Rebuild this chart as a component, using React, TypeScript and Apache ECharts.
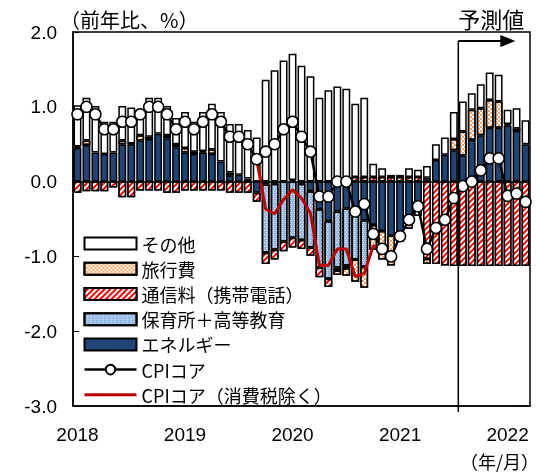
import React, { useEffect, useRef } from "react";
import * as echarts from "echarts";

// Monthly categories, 2018/1 .. 2022/3
const years = [2018, 2019, 2020, 2021, 2022];
const months: string[] = [];
years.forEach((y) => {
  const last = y === 2022 ? 3 : 12;
  for (let m = 1; m <= last; m++) months.push(`${y}/${m}`);
});

// Contributions to CPI core (y/y, % points)
const energy = [
  0.45, 0.49, 0.39, 0.37, 0.39, 0.5, 0.5, 0.55, 0.57, 0.64, 0.58, 0.46,
  0.39, 0.37, 0.39, 0.37, 0.27, 0.08, 0.09, 0.04, -0.15, -0.04, -0.03, 0,
  0.02, -0.03, -0.13, -0.37, -0.53, -0.4, -0.36, -0.42, -0.52, -0.58, -0.66, -0.72,
  -0.7, -0.55, -0.38, 0.05, 0.29, 0.36, 0.42, 0.35, 0.56, 0.62, 0.72, 0.72,
  0.75, 0.68, 0.5,
];
const childcare = [
  0, 0, 0, 0, 0, 0, 0, 0, 0, 0, 0, 0,
  0, 0, 0, 0, 0, 0, 0, 0, 0, -0.91, -0.88, -0.8,
  -0.75, -0.75, -0.75, -0.78, -0.77, -0.75, -0.76, -0.62, -0.62, 0, 0, 0,
  0, 0, 0, 0, 0, 0, 0, 0, 0, 0, 0, 0,
  0, 0, 0,
];
const mobile = [
  -0.15, -0.13, -0.13, -0.13, -0.08, -0.21, -0.21, -0.12, -0.12, -0.12, -0.15, -0.15,
  -0.12, -0.12, -0.12, -0.12, -0.12, -0.15, -0.15, -0.15, -0.12, -0.15, -0.13, -0.13,
  -0.13, -0.12, -0.11, -0.13, -0.11, -0.04, -0.04, 0.06, 0.06, 0.06, 0.06, 0.06,
  0.06, 0.06, 0.06, -1.03, -1.1, -1.12, -1.13, -1.13, -1.13, -1.13, -1.13, -1.13,
  -1.13, -1.13, -1.13,
];
const travel = [
  0.02, 0.06, 0, 0, 0, 0.05, 0.01, 0.07, 0.03, 0, 0.04, 0.04,
  0.06, 0.03, 0.02, 0.06, 0, 0.04, 0, 0, 0, 0, 0, 0,
  0, 0, 0, 0, 0, -0.06, -0.1, -0.3, -0.28, -0.33, -0.38, -0.4,
  -0.1, -0.08, -0.08, -0.07, 0, 0, 0.15, 0.32, 0.4, 0.36, 0.37, 0.35,
  0.02, 0.03, 0,
];
const others = [
  0.55, 0.57, 0.62, 0.43, 0.41, 0.46, 0.48, 0.34, 0.52, 0.48, 0.39, 0.35,
  0.48, 0.4, 0.52, 0.61, 0.66, 0.65, 0.68, 0.65, 0.59, 1.36, 1.49, 1.62,
  1.69, 1.55, 1.41, 1.12, 1.22, 1.27, 1.24, 0.98, 1.06, 0.18, 0.12, 0.03,
  0.03, 0.12, 0.1, 0.16, 0.21, 0.23, 0.36, 0.4, 0.22, 0.32, 0.37, 0.36,
  0.19, 0.27, 0.32,
];
// CPI core (y/y, %)
const cpiCore = [
  0.9, 1.0, 0.9, 0.7, 0.7, 0.8, 0.8, 0.9, 1.0, 1.0, 0.9, 0.7,
  0.8, 0.7, 0.8, 0.9, 0.8, 0.6, 0.6, 0.5, 0.3, 0.4, 0.5, 0.7,
  0.8, 0.6, 0.4, -0.2, -0.2, 0.0, 0.0, -0.4, -0.3, -0.7, -0.9, -1.0,
  -0.73, -0.51, -0.33, -0.9, -0.62, -0.51, -0.22, -0.06, 0.0, 0.15, 0.31, 0.31,
  -0.19, -0.16, -0.27,
];
// CPI core excluding the consumption tax hike (2019/9 .. 2020/11)
const cpiCoreExTax: (number | null)[] = [
  null, null, null, null, null, null, null, null, null, null, null, null,
  null, null, null, null, null, null, null, null, 0.3, -0.37, -0.43, -0.24,
  -0.11, -0.22, -0.42, -1.12, -1.12, -0.9, -0.9, -1.27, -1.23, -0.86, -0.9, null,
  null, null, null, null, null, null, null, null, null, null, null, null,
  null, null, null,
];
const yTicks = { min: -3, max: 2, interval: 1 };
const forecastStart = "2021/8";

const FONT = "'Liberation Sans', 'Noto Sans CJK JP', sans-serif";
const JP = "'Noto Sans CJK JP', sans-serif";
const BORDER = { borderColor: "#000", borderWidth: 1.5 };
const CLEAR = "rgba(0,0,0,0)";

const toBar = (arr: number[]) => arr.map((v) => (v === 0 ? "-" : v));

export default function App() {
  const ref = useRef<HTMLDivElement>(null);

  useEffect(() => {
    if (!ref.current) return;
    const chart = echarts.init(ref.current, null, { renderer: "svg" });

    const barBase = {
      type: "bar" as const,
      stack: "cpi",
      barCategoryGap: "12%",
      z: 2,
    };

    chart.setOption({
      animation: false,
      grid: {
        left: 73,
        right: 10,
        top: 32,
        bottom: 68,
        show: true,
        borderColor: "#000",
        borderWidth: 1.5,
        backgroundColor: "transparent",
      },
      legend: {
        orient: "vertical",
        left: 78,
        top: 228,
        itemWidth: 52,
        itemHeight: 12,
        itemGap: 4,
        textStyle: { fontSize: 18, fontFamily: JP, color: "#000", lineHeight: 21.2 },
        data: [
          { name: "その他", icon: "rect" },
          { name: "旅行費", icon: "rect" },
          { name: "通信料（携帯電話）", icon: "rect" },
          { name: "保育所＋高等教育", icon: "rect" },
          { name: "エネルギー", icon: "rect" },
          { name: "CPIコア", lineStyle: { width: 2.5, color: "#000" } },
          {
            name: "CPIコア（消費税除く）",
            itemStyle: { color: CLEAR, borderColor: CLEAR, borderWidth: 0 },
            lineStyle: { width: 3, color: "#c00000" },
          },
        ],
      },
      xAxis: {
        type: "category",
        data: months,
        axisLine: { onZero: false, lineStyle: { color: "#000", width: 1.5 } },
        axisTick: { show: false },
        axisLabel: {
          interval: 11,
          formatter: (v: string) => v.split("/")[0],
          fontSize: 19,
          fontFamily: FONT,
          color: "#000",
          margin: 19,
        },
      },
      yAxis: {
        type: "value",
        min: yTicks.min,
        max: yTicks.max,
        interval: yTicks.interval,
        splitLine: { show: false },
        axisLine: { show: true, lineStyle: { color: "#000", width: 1.5 } },
        axisTick: { show: true, inside: true, length: 6, lineStyle: { color: "#000" } },
        axisLabel: {
          formatter: (v: number) => v.toFixed(1),
          fontSize: 19,
          fontFamily: FONT,
          color: "#000",
          margin: 16,
        },
      },
      series: [
        {
          ...barBase,
          name: "エネルギー",
          data: toBar(energy),
          itemStyle: { color: "#1f4477", ...BORDER },
          markLine: {
            silent: true,
            symbol: "none",
            label: { show: false },
            lineStyle: { color: "#000", width: 1.5, type: "solid" },
            data: [{ yAxis: 0 }],
          },
        },
        {
          ...barBase,
          name: "保育所＋高等教育",
          data: toBar(childcare),
          itemStyle: {
            color: "#93b9e4",
            ...BORDER,
            decal: {
              symbol: "rect",
              symbolSize: 1,
              color: "rgba(255,255,255,0.85)",
              dashArrayX: [[1, 2], [0, 1.5, 1, 0.5]],
              dashArrayY: [1, 1],
              rotation: 0,
            },
          },
        },
        {
          ...barBase,
          name: "通信料（携帯電話）",
          data: toBar(mobile),
          itemStyle: {
            color: "#ff0000",
            ...BORDER,
            decal: {
              symbol: "rect",
              symbolSize: 1,
              color: "#ffffff",
              dashArrayX: [1, 0],
              dashArrayY: [2, 2],
              rotation: -Math.PI / 4,
            },
          },
        },
        {
          ...barBase,
          name: "旅行費",
          data: toBar(travel),
          itemStyle: {
            color: "#ffffff",
            ...BORDER,
            decal: {
              symbol: "rect",
              symbolSize: 1,
              color: "#f7a25e",
              dashArrayX: [[2, 2], [0, 2, 2, 0]],
              dashArrayY: [2, 0],
              rotation: 0,
            },
          },
        },
        {
          ...barBase,
          name: "その他",
          data: toBar(others),
          itemStyle: { color: "#ffffff", ...BORDER },
        },
        {
          name: "CPIコア（消費税除く）",
          type: "line",
          data: cpiCoreExTax,
          symbol: "none",
          z: 4,
          lineStyle: { color: "#c00000", width: 3 },
          itemStyle: { color: "#c00000" },
        },
        {
          name: "CPIコア",
          type: "line",
          data: cpiCore,
          symbol: "circle",
          symbolSize: 11,
          showSymbol: true,
          showAllSymbol: true,
          z: 5,
          lineStyle: { color: "#000", width: 2.5 },
          itemStyle: { color: "#fff", borderColor: "#000", borderWidth: 1.5 },
        },
      ],
    });

    // Forecast bracket, title and unit labels placed from the axes' scales
    const idx = months.indexOf(forecastStart);
    const xa = chart.convertToPixel({ xAxisIndex: 0 }, months[idx]) as number;
    const xb = chart.convertToPixel({ xAxisIndex: 0 }, months[idx + 1]) as number;
    const bx = xa - (xb - xa) / 2;
    const yTop = chart.convertToPixel({ yAxisIndex: 0 }, yTicks.max) as number;
    const yBot = chart.convertToPixel({ yAxisIndex: 0 }, yTicks.min) as number;
    const ay = yTop + 9;

    chart.setOption({
      graphic: [
        {
          type: "line",
          z: 50,
          shape: { x1: bx, y1: ay, x2: bx, y2: yBot + 6 },
          style: { stroke: "#000", lineWidth: 1.5 },
        },
        {
          type: "line",
          z: 50,
          shape: { x1: bx, y1: ay, x2: bx + 44, y2: ay },
          style: { stroke: "#000", lineWidth: 2 },
        },
        {
          type: "polygon",
          z: 50,
          shape: { points: [[bx + 42, ay - 6], [bx + 57, ay], [bx + 42, ay + 6]] },
          style: { fill: "#000" },
        },
        {
          type: "text",
          z: 50,
          x: bx + 33,
          y: yTop - 14,
          style: {
            text: "予測値",
            fontSize: 22,
            fontFamily: JP,
            fill: "#000",
            align: "center",
            verticalAlign: "middle",
          },
        },
        {
          type: "text",
          z: 50,
          x: 60,
          y: yTop - 13,
          style: {
            text: "（前年比、%）",
            fontSize: 20,
            fontFamily: JP,
            fill: "#000",
            align: "left",
            verticalAlign: "middle",
          },
        },
        {
          type: "text",
          z: 50,
          x: 539,
          y: yBot + 55,
          style: {
            text: "（年/月）",
            fontSize: 18,
            fontFamily: JP,
            fill: "#000",
            align: "right",
            verticalAlign: "middle",
          },
        },
      ],
    });

    return () => chart.dispose();
  }, []);

  return (
    <div
      ref={ref}
      style={{ position: "fixed", left: 0, top: 0, width: 540, height: 474 }}
    />
  );
}
